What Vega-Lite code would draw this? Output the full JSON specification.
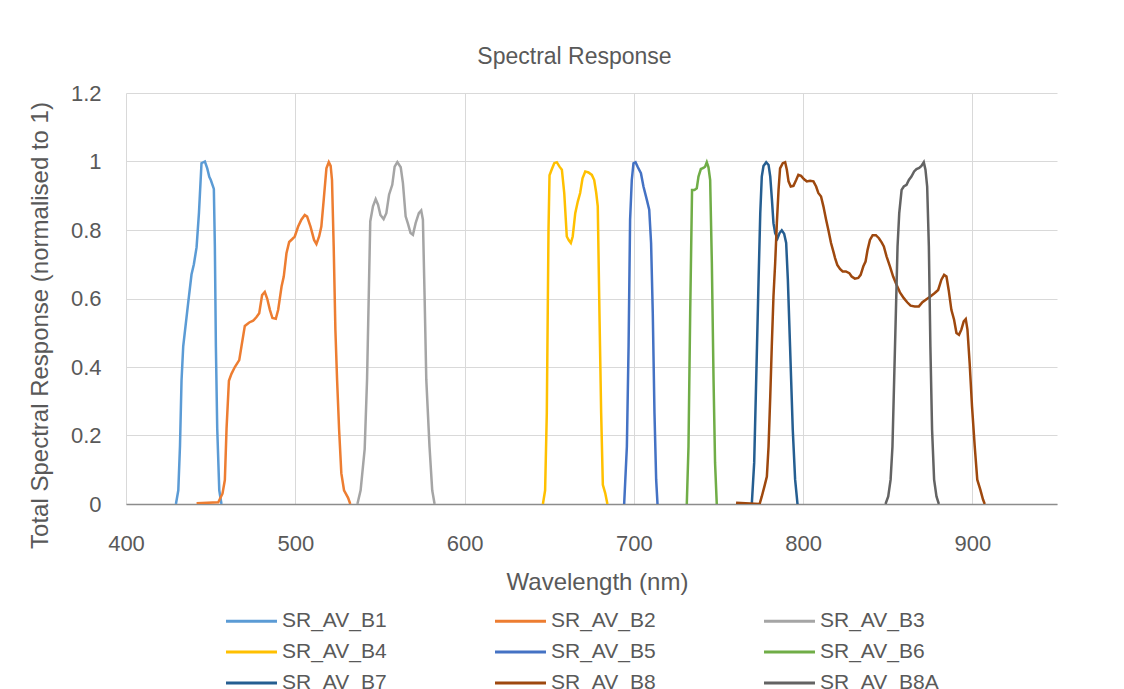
{
  "$schema": "https://vega.github.io/schema/vega-lite/v6.json",
  "width": 931,
  "height": 411,
  "autosize": {"type": "none"},
  "padding": {"left": 126, "top": 93, "right": 67, "bottom": 185},
  "background": "white",
  "title": {"text": "Spectral Response", "fontSize": 23, "font": "Liberation Sans", "fontWeight": "normal", "color": "#595959", "anchor": "middle", "dx": -17, "offset": 13},
  "data": {"values": [
    {"band":"SR_AV_B1","wl":429.5,"r":0},{"band":"SR_AV_B1","wl":430.9,"r":0.04},{"band":"SR_AV_B1","wl":431.9,"r":0.17},{"band":"SR_AV_B1","wl":432.8,"r":0.36},{"band":"SR_AV_B1","wl":433.8,"r":0.46},{"band":"SR_AV_B1","wl":436.8,"r":0.59},{"band":"SR_AV_B1","wl":438.7,"r":0.67},{"band":"SR_AV_B1","wl":440.1,"r":0.7},{"band":"SR_AV_B1","wl":441.7,"r":0.75},{"band":"SR_AV_B1","wl":443.1,"r":0.85},{"band":"SR_AV_B1","wl":444.6,"r":0.995},{"band":"SR_AV_B1","wl":446.6,"r":1.0},{"band":"SR_AV_B1","wl":448.0,"r":0.98},{"band":"SR_AV_B1","wl":449.2,"r":0.955},{"band":"SR_AV_B1","wl":450.1,"r":0.946},{"band":"SR_AV_B1","wl":451.9,"r":0.92},{"band":"SR_AV_B1","wl":452.5,"r":0.75},{"band":"SR_AV_B1","wl":453.1,"r":0.46},{"band":"SR_AV_B1","wl":453.9,"r":0.22},{"band":"SR_AV_B1","wl":455.1,"r":0.04},{"band":"SR_AV_B1","wl":456.4,"r":0},
    {"band":"SR_AV_B2","wl":441.7,"r":0.002},{"band":"SR_AV_B2","wl":454.5,"r":0.005},{"band":"SR_AV_B2","wl":457.0,"r":0.03},{"band":"SR_AV_B2","wl":458.4,"r":0.07},{"band":"SR_AV_B2","wl":459.4,"r":0.22},{"band":"SR_AV_B2","wl":460.8,"r":0.36},{"band":"SR_AV_B2","wl":462.3,"r":0.38},{"band":"SR_AV_B2","wl":464.3,"r":0.4},{"band":"SR_AV_B2","wl":466.9,"r":0.42},{"band":"SR_AV_B2","wl":468.2,"r":0.46},{"band":"SR_AV_B2","wl":470.2,"r":0.52},{"band":"SR_AV_B2","wl":472.8,"r":0.53},{"band":"SR_AV_B2","wl":475.1,"r":0.535},{"band":"SR_AV_B2","wl":477.1,"r":0.546},{"band":"SR_AV_B2","wl":478.7,"r":0.557},{"band":"SR_AV_B2","wl":480.4,"r":0.61},{"band":"SR_AV_B2","wl":482.0,"r":0.619},{"band":"SR_AV_B2","wl":483.4,"r":0.6},{"band":"SR_AV_B2","wl":485.0,"r":0.567},{"band":"SR_AV_B2","wl":486.5,"r":0.543},{"band":"SR_AV_B2","wl":488.5,"r":0.541},{"band":"SR_AV_B2","wl":489.9,"r":0.567},{"band":"SR_AV_B2","wl":491.9,"r":0.635},{"band":"SR_AV_B2","wl":493.2,"r":0.664},{"band":"SR_AV_B2","wl":494.8,"r":0.732},{"band":"SR_AV_B2","wl":496.4,"r":0.765},{"band":"SR_AV_B2","wl":498.1,"r":0.773},{"band":"SR_AV_B2","wl":499.7,"r":0.781},{"band":"SR_AV_B2","wl":501.7,"r":0.81},{"band":"SR_AV_B2","wl":503.6,"r":0.83},{"band":"SR_AV_B2","wl":505.6,"r":0.844},{"band":"SR_AV_B2","wl":507.0,"r":0.839},{"band":"SR_AV_B2","wl":509.0,"r":0.81},{"band":"SR_AV_B2","wl":511.1,"r":0.771},{"band":"SR_AV_B2","wl":512.5,"r":0.759},{"band":"SR_AV_B2","wl":514.1,"r":0.781},{"band":"SR_AV_B2","wl":515.4,"r":0.81},{"band":"SR_AV_B2","wl":516.8,"r":0.888},{"band":"SR_AV_B2","wl":518.4,"r":0.98},{"band":"SR_AV_B2","wl":519.8,"r":0.998},{"band":"SR_AV_B2","wl":520.9,"r":0.987},{"band":"SR_AV_B2","wl":521.7,"r":0.946},{"band":"SR_AV_B2","wl":522.7,"r":0.752},{"band":"SR_AV_B2","wl":523.7,"r":0.509},{"band":"SR_AV_B2","wl":524.7,"r":0.363},{"band":"SR_AV_B2","wl":525.9,"r":0.217},{"band":"SR_AV_B2","wl":527.2,"r":0.09},{"band":"SR_AV_B2","wl":528.8,"r":0.04},{"band":"SR_AV_B2","wl":531.2,"r":0.018},{"band":"SR_AV_B2","wl":532.5,"r":0},
    {"band":"SR_AV_B3","wl":536.7,"r":0},{"band":"SR_AV_B3","wl":538.6,"r":0.04},{"band":"SR_AV_B3","wl":541.0,"r":0.16},{"band":"SR_AV_B3","wl":542.4,"r":0.363},{"band":"SR_AV_B3","wl":543.6,"r":0.655},{"band":"SR_AV_B3","wl":544.3,"r":0.825},{"band":"SR_AV_B3","wl":545.9,"r":0.869},{"band":"SR_AV_B3","wl":547.5,"r":0.89},{"band":"SR_AV_B3","wl":548.9,"r":0.874},{"band":"SR_AV_B3","wl":550.3,"r":0.844},{"band":"SR_AV_B3","wl":552.2,"r":0.832},{"band":"SR_AV_B3","wl":553.8,"r":0.849},{"band":"SR_AV_B3","wl":555.4,"r":0.903},{"band":"SR_AV_B3","wl":557.3,"r":0.932},{"band":"SR_AV_B3","wl":558.7,"r":0.985},{"band":"SR_AV_B3","wl":560.3,"r":0.998},{"band":"SR_AV_B3","wl":562.3,"r":0.983},{"band":"SR_AV_B3","wl":563.6,"r":0.937},{"band":"SR_AV_B3","wl":565.2,"r":0.84},{"band":"SR_AV_B3","wl":566.6,"r":0.818},{"band":"SR_AV_B3","wl":568.1,"r":0.791},{"band":"SR_AV_B3","wl":569.5,"r":0.786},{"band":"SR_AV_B3","wl":571.1,"r":0.82},{"band":"SR_AV_B3","wl":573.0,"r":0.849},{"band":"SR_AV_B3","wl":574.4,"r":0.857},{"band":"SR_AV_B3","wl":575.4,"r":0.83},{"band":"SR_AV_B3","wl":576.4,"r":0.606},{"band":"SR_AV_B3","wl":577.4,"r":0.363},{"band":"SR_AV_B3","wl":579.3,"r":0.168},{"band":"SR_AV_B3","wl":580.9,"r":0.04},{"band":"SR_AV_B3","wl":582.3,"r":0},
    {"band":"SR_AV_B4","wl":646.3,"r":0},{"band":"SR_AV_B4","wl":647.6,"r":0.04},{"band":"SR_AV_B4","wl":648.6,"r":0.266},{"band":"SR_AV_B4","wl":649.6,"r":0.8},{"band":"SR_AV_B4","wl":650.2,"r":0.96},{"band":"SR_AV_B4","wl":651.6,"r":0.978},{"band":"SR_AV_B4","wl":653.0,"r":0.995},{"band":"SR_AV_B4","wl":654.5,"r":0.998},{"band":"SR_AV_B4","wl":656.1,"r":0.985},{"band":"SR_AV_B4","wl":657.5,"r":0.976},{"band":"SR_AV_B4","wl":658.9,"r":0.908},{"band":"SR_AV_B4","wl":660.4,"r":0.781},{"band":"SR_AV_B4","wl":661.6,"r":0.77},{"band":"SR_AV_B4","wl":662.8,"r":0.762},{"band":"SR_AV_B4","wl":663.9,"r":0.781},{"band":"SR_AV_B4","wl":665.4,"r":0.849},{"band":"SR_AV_B4","wl":666.9,"r":0.883},{"band":"SR_AV_B4","wl":668.3,"r":0.908},{"band":"SR_AV_B4","wl":669.7,"r":0.951},{"band":"SR_AV_B4","wl":671.3,"r":0.971},{"band":"SR_AV_B4","wl":673.2,"r":0.968},{"band":"SR_AV_B4","wl":675.2,"r":0.961},{"band":"SR_AV_B4","wl":676.6,"r":0.946},{"band":"SR_AV_B4","wl":677.8,"r":0.908},{"band":"SR_AV_B4","wl":678.7,"r":0.869},{"band":"SR_AV_B4","wl":679.7,"r":0.557},{"band":"SR_AV_B4","wl":680.7,"r":0.266},{"band":"SR_AV_B4","wl":681.7,"r":0.056},{"band":"SR_AV_B4","wl":683.1,"r":0.032},{"band":"SR_AV_B4","wl":684.4,"r":0},
    {"band":"SR_AV_B5","wl":694.3,"r":0},{"band":"SR_AV_B5","wl":695.9,"r":0.168},{"band":"SR_AV_B5","wl":696.9,"r":0.46},{"band":"SR_AV_B5","wl":697.8,"r":0.83},{"band":"SR_AV_B5","wl":698.8,"r":0.946},{"band":"SR_AV_B5","wl":699.8,"r":0.995},{"band":"SR_AV_B5","wl":701.0,"r":0.998},{"band":"SR_AV_B5","wl":702.4,"r":0.983},{"band":"SR_AV_B5","wl":704.2,"r":0.966},{"band":"SR_AV_B5","wl":705.7,"r":0.927},{"band":"SR_AV_B5","wl":707.7,"r":0.888},{"band":"SR_AV_B5","wl":709.1,"r":0.859},{"band":"SR_AV_B5","wl":710.2,"r":0.762},{"band":"SR_AV_B5","wl":711.2,"r":0.557},{"band":"SR_AV_B5","wl":712.2,"r":0.266},{"band":"SR_AV_B5","wl":713.2,"r":0.071},{"band":"SR_AV_B5","wl":714.0,"r":0},
    {"band":"SR_AV_B6","wl":731.3,"r":0},{"band":"SR_AV_B6","wl":732.3,"r":0.168},{"band":"SR_AV_B6","wl":733.3,"r":0.557},{"band":"SR_AV_B6","wl":734.4,"r":0.917},{"band":"SR_AV_B6","wl":735.8,"r":0.917},{"band":"SR_AV_B6","wl":737.2,"r":0.922},{"band":"SR_AV_B6","wl":738.2,"r":0.956},{"band":"SR_AV_B6","wl":739.6,"r":0.978},{"band":"SR_AV_B6","wl":741.1,"r":0.981},{"band":"SR_AV_B6","wl":742.1,"r":0.985},{"band":"SR_AV_B6","wl":743.1,"r":0.998},{"band":"SR_AV_B6","wl":744.1,"r":0.983},{"band":"SR_AV_B6","wl":745.1,"r":0.946},{"band":"SR_AV_B6","wl":746.1,"r":0.703},{"band":"SR_AV_B6","wl":747.1,"r":0.363},{"band":"SR_AV_B6","wl":748.0,"r":0.12},{"band":"SR_AV_B6","wl":749.0,"r":0},
    {"band":"SR_AV_B7","wl":769.7,"r":0},{"band":"SR_AV_B7","wl":771.1,"r":0.12},{"band":"SR_AV_B7","wl":772.3,"r":0.363},{"band":"SR_AV_B7","wl":773.7,"r":0.655},{"band":"SR_AV_B7","wl":774.7,"r":0.849},{"band":"SR_AV_B7","wl":775.6,"r":0.956},{"band":"SR_AV_B7","wl":776.6,"r":0.987},{"band":"SR_AV_B7","wl":778.2,"r":0.998},{"band":"SR_AV_B7","wl":779.6,"r":0.99},{"band":"SR_AV_B7","wl":780.6,"r":0.956},{"band":"SR_AV_B7","wl":781.6,"r":0.888},{"band":"SR_AV_B7","wl":782.5,"r":0.82},{"band":"SR_AV_B7","wl":783.5,"r":0.791},{"band":"SR_AV_B7","wl":784.9,"r":0.776},{"band":"SR_AV_B7","wl":786.1,"r":0.791},{"band":"SR_AV_B7","wl":787.4,"r":0.799},{"band":"SR_AV_B7","wl":788.8,"r":0.789},{"band":"SR_AV_B7","wl":790.0,"r":0.762},{"band":"SR_AV_B7","wl":791.0,"r":0.655},{"band":"SR_AV_B7","wl":792.3,"r":0.46},{"band":"SR_AV_B7","wl":793.9,"r":0.217},{"band":"SR_AV_B7","wl":795.3,"r":0.071},{"band":"SR_AV_B7","wl":796.7,"r":0},
    {"band":"SR_AV_B8","wl":760.4,"r":0.004},{"band":"SR_AV_B8","wl":774.3,"r":0},{"band":"SR_AV_B8","wl":775.6,"r":0.022},{"band":"SR_AV_B8","wl":777.2,"r":0.052},{"band":"SR_AV_B8","wl":778.6,"r":0.08},{"band":"SR_AV_B8","wl":779.6,"r":0.168},{"band":"SR_AV_B8","wl":780.6,"r":0.314},{"band":"SR_AV_B8","wl":781.5,"r":0.46},{"band":"SR_AV_B8","wl":782.5,"r":0.606},{"band":"SR_AV_B8","wl":783.5,"r":0.703},{"band":"SR_AV_B8","wl":784.5,"r":0.82},{"band":"SR_AV_B8","wl":785.5,"r":0.917},{"band":"SR_AV_B8","wl":786.4,"r":0.98},{"band":"SR_AV_B8","wl":788.0,"r":0.995},{"band":"SR_AV_B8","wl":789.4,"r":0.998},{"band":"SR_AV_B8","wl":790.4,"r":0.976},{"band":"SR_AV_B8","wl":791.4,"r":0.942},{"band":"SR_AV_B8","wl":792.7,"r":0.927},{"band":"SR_AV_B8","wl":794.3,"r":0.929},{"band":"SR_AV_B8","wl":795.9,"r":0.946},{"band":"SR_AV_B8","wl":797.2,"r":0.961},{"band":"SR_AV_B8","wl":798.8,"r":0.958},{"band":"SR_AV_B8","wl":800.6,"r":0.948},{"band":"SR_AV_B8","wl":802.2,"r":0.942},{"band":"SR_AV_B8","wl":804.1,"r":0.944},{"band":"SR_AV_B8","wl":806.1,"r":0.942},{"band":"SR_AV_B8","wl":807.7,"r":0.927},{"band":"SR_AV_B8","wl":809.0,"r":0.908},{"band":"SR_AV_B8","wl":810.6,"r":0.898},{"band":"SR_AV_B8","wl":812.0,"r":0.869},{"band":"SR_AV_B8","wl":813.6,"r":0.83},{"band":"SR_AV_B8","wl":814.9,"r":0.801},{"band":"SR_AV_B8","wl":816.5,"r":0.762},{"band":"SR_AV_B8","wl":817.9,"r":0.737},{"band":"SR_AV_B8","wl":818.9,"r":0.718},{"band":"SR_AV_B8","wl":820.2,"r":0.698},{"band":"SR_AV_B8","wl":821.8,"r":0.686},{"band":"SR_AV_B8","wl":823.4,"r":0.679},{"band":"SR_AV_B8","wl":825.3,"r":0.679},{"band":"SR_AV_B8","wl":827.3,"r":0.674},{"band":"SR_AV_B8","wl":828.7,"r":0.664},{"band":"SR_AV_B8","wl":830.6,"r":0.658},{"band":"SR_AV_B8","wl":832.6,"r":0.66},{"band":"SR_AV_B8","wl":834.0,"r":0.669},{"band":"SR_AV_B8","wl":835.6,"r":0.694},{"band":"SR_AV_B8","wl":836.9,"r":0.708},{"band":"SR_AV_B8","wl":838.1,"r":0.742},{"band":"SR_AV_B8","wl":839.5,"r":0.771},{"band":"SR_AV_B8","wl":841.1,"r":0.785},{"band":"SR_AV_B8","wl":843.0,"r":0.785},{"band":"SR_AV_B8","wl":844.8,"r":0.776},{"band":"SR_AV_B8","wl":846.4,"r":0.764},{"band":"SR_AV_B8","wl":847.7,"r":0.752},{"band":"SR_AV_B8","wl":849.3,"r":0.723},{"band":"SR_AV_B8","wl":851.3,"r":0.694},{"band":"SR_AV_B8","wl":853.2,"r":0.664},{"band":"SR_AV_B8","wl":855.2,"r":0.64},{"band":"SR_AV_B8","wl":857.2,"r":0.618},{"band":"SR_AV_B8","wl":859.5,"r":0.601},{"band":"SR_AV_B8","wl":861.5,"r":0.589},{"band":"SR_AV_B8","wl":863.5,"r":0.579},{"band":"SR_AV_B8","wl":866.0,"r":0.577},{"band":"SR_AV_B8","wl":868.4,"r":0.577},{"band":"SR_AV_B8","wl":870.5,"r":0.589},{"band":"SR_AV_B8","wl":872.9,"r":0.598},{"band":"SR_AV_B8","wl":875.2,"r":0.606},{"band":"SR_AV_B8","wl":877.8,"r":0.616},{"band":"SR_AV_B8","wl":879.8,"r":0.625},{"band":"SR_AV_B8","wl":881.7,"r":0.655},{"band":"SR_AV_B8","wl":883.3,"r":0.669},{"band":"SR_AV_B8","wl":884.7,"r":0.664},{"band":"SR_AV_B8","wl":886.0,"r":0.625},{"band":"SR_AV_B8","wl":887.6,"r":0.567},{"band":"SR_AV_B8","wl":889.2,"r":0.538},{"band":"SR_AV_B8","wl":890.6,"r":0.499},{"band":"SR_AV_B8","wl":892.1,"r":0.494},{"band":"SR_AV_B8","wl":893.5,"r":0.509},{"band":"SR_AV_B8","wl":894.9,"r":0.533},{"band":"SR_AV_B8","wl":896.1,"r":0.54},{"band":"SR_AV_B8","wl":897.1,"r":0.509},{"band":"SR_AV_B8","wl":898.4,"r":0.411},{"band":"SR_AV_B8","wl":899.8,"r":0.285},{"band":"SR_AV_B8","wl":901.4,"r":0.168},{"band":"SR_AV_B8","wl":902.9,"r":0.071},{"band":"SR_AV_B8","wl":904.7,"r":0.042},{"band":"SR_AV_B8","wl":906.3,"r":0.013},{"band":"SR_AV_B8","wl":907.3,"r":0},
    {"band":"SR_AV_B8A","wl":848.7,"r":0},{"band":"SR_AV_B8A","wl":850.3,"r":0.022},{"band":"SR_AV_B8A","wl":851.7,"r":0.071},{"band":"SR_AV_B8A","wl":852.8,"r":0.168},{"band":"SR_AV_B8A","wl":853.8,"r":0.363},{"band":"SR_AV_B8A","wl":854.8,"r":0.557},{"band":"SR_AV_B8A","wl":855.8,"r":0.752},{"band":"SR_AV_B8A","wl":856.8,"r":0.849},{"band":"SR_AV_B8A","wl":858.2,"r":0.917},{"band":"SR_AV_B8A","wl":859.5,"r":0.927},{"band":"SR_AV_B8A","wl":861.1,"r":0.932},{"band":"SR_AV_B8A","wl":862.5,"r":0.946},{"band":"SR_AV_B8A","wl":864.0,"r":0.956},{"band":"SR_AV_B8A","wl":865.6,"r":0.971},{"band":"SR_AV_B8A","wl":867.0,"r":0.978},{"band":"SR_AV_B8A","wl":868.6,"r":0.981},{"band":"SR_AV_B8A","wl":869.9,"r":0.987},{"band":"SR_AV_B8A","wl":871.3,"r":0.998},{"band":"SR_AV_B8A","wl":872.3,"r":0.976},{"band":"SR_AV_B8A","wl":873.3,"r":0.927},{"band":"SR_AV_B8A","wl":874.3,"r":0.752},{"band":"SR_AV_B8A","wl":875.2,"r":0.46},{"band":"SR_AV_B8A","wl":876.2,"r":0.217},{"band":"SR_AV_B8A","wl":877.4,"r":0.071},{"band":"SR_AV_B8A","wl":878.8,"r":0.022},{"band":"SR_AV_B8A","wl":880.2,"r":0}
  ]},
  "mark": {"type": "line", "strokeWidth": 2.5, "interpolate": "linear", "clip": true},
  "encoding": {
    "x": {"field": "wl", "type": "quantitative", "scale": {"domain": [400, 950], "nice": false, "zero": false},
      "axis": {"title": "Wavelength (nm)", "values": [400, 500, 600, 700, 800, 900], "ticks": false, "labelFlush": false, "labelFontSize": 22, "labelPadding": 29, "domainColor": "#8c8c8c", "domainWidth": 1.5, "titleFontSize": 24, "titleX": 471, "titleY": 78, "titleAlign": "center", "titleBaseline": "middle"}},
    "y": {"field": "r", "type": "quantitative", "scale": {"domain": [0, 1.2], "nice": false},
      "axis": {"title": "Total Spectral Response (normalised to 1)", "values": [0, 0.2, 0.4, 0.6, 0.8, 1, 1.2], "format": "~g", "ticks": false, "domain": false, "labelFontSize": 22, "labelPadding": 25, "titleFontSize": 24, "titleX": -86, "titleY": 232, "titleAngle": -90, "titleAlign": "center", "titleBaseline": "middle"}},
    "color": {"field": "band", "type": "nominal",
      "scale": {"domain": ["SR_AV_B1","SR_AV_B2","SR_AV_B3","SR_AV_B4","SR_AV_B5","SR_AV_B6","SR_AV_B7","SR_AV_B8","SR_AV_B8A"],
                "range": ["#5B9BD5","#ED7D31","#A5A5A5","#FFC000","#4472C4","#70AD47","#255E91","#9E480E","#636363"]},
      "legend": {"title": null, "orient": "none", "legendX": 111, "legendY": 513.5, "direction": "horizontal", "columns": 3, "gridAlign": "all", "columnPadding": 88, "rowPadding": 6, "symbolType": "M-2,0H2", "symbolSize": 650, "symbolStrokeWidth": 3, "symbolFillColor": "transparent", "labelOffset": 16, "labelFontSize": 21, "labelFont": "Liberation Sans", "labelColor": "#595959"}}
  },
  "config": {
    "view": {"stroke": null},
    "axis": {"gridColor": "#d9d9d9", "gridWidth": 1, "labelFont": "Liberation Sans", "labelFontSize": 21, "labelColor": "#595959", "titleFont": "Liberation Sans", "titleFontSize": 21, "titleFontWeight": "normal", "titleColor": "#595959"}
  }
}
